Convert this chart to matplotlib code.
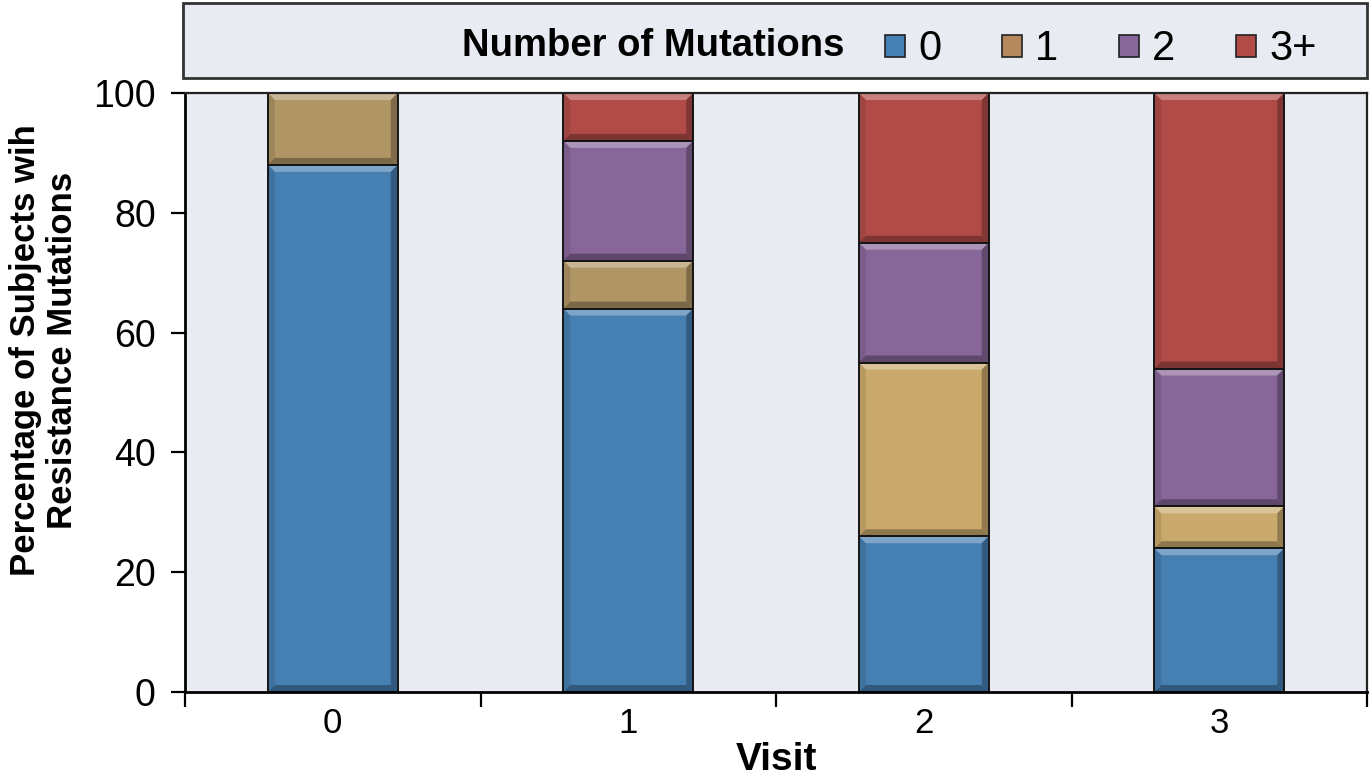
import matplotlib.pyplot as plt
import matplotlib.colors as mcolors
from matplotlib.patches import Polygon, Rectangle
import numpy as np

plt.rcParams['font.family'] = ['Liberation Sans', 'DejaVu Sans']

# data (percent of subjects per visit)
visits = ["0", "1", "2", "3"]
mutation_groups = ["0", "1", "2", "3+"]
pct_0 = [88, 64, 26, 24]
pct_1 = [12, 8, 29, 7]
pct_2 = [0, 20, 20, 23]
pct_3plus = [0, 8, 25, 46]
series = [pct_0, pct_1, pct_2, pct_3plus]

# colours (the "1" segment is a bit darker in the first two visits)
bar_colors = [
    ["#467fb1"] * 4,
    ["#b09565", "#b09565", "#c9aa6c", "#c9aa6c"],
    ["#876699"] * 4,
    ["#b14b48"] * 4,
]
legend_colors = ["#467fb1", "#b5895c", "#876699", "#b14b48"]
bg = "#e8ebf1"


def shade(c, f):
    rgb = np.array(mcolors.to_rgb(c))
    if f > 0:
        return tuple(rgb + (1 - rgb) * f)
    return tuple(rgb * (1 + f))


def bevel(ax, patch, color, px=7):
    # little 3d bevel like the original office chart
    x0, y0 = patch.get_x(), patch.get_y()
    x1, y1 = x0 + patch.get_width(), y0 + patch.get_height()
    if y1 - y0 <= 0:
        return
    o = ax.transData.transform((0, 0))
    d = ax.transData.inverted().transform(o + px) - ax.transData.inverted().transform(o)
    dx, dy = d
    dy = min(dy, (y1 - y0) / 2)
    parts = [
        ([(x0, y1), (x1, y1), (x1 - dx, y1 - dy), (x0 + dx, y1 - dy)], 0.3),
        ([(x0, y0), (x1, y0), (x1 - dx, y0 + dy), (x0 + dx, y0 + dy)], -0.3),
        ([(x1, y0), (x1, y1), (x1 - dx, y1 - dy), (x1 - dx, y0 + dy)], -0.28),
        ([(x0, y0), (x0, y1), (x0 + dx, y1 - dy), (x0 + dx, y0 + dy)], -0.1),
    ]
    for pts, f in parts:
        ax.add_patch(Polygon(pts, closed=True, facecolor=shade(color, f),
                             edgecolor="none", zorder=2.2))
    ax.add_patch(Rectangle((x0, y0), x1 - x0, y1 - y0, fill=False,
                           edgecolor="#151515", lw=1.4, zorder=2.5))


fig = plt.figure(figsize=(13.72, 7.82), dpi=100)
ax = fig.add_axes([185 / 1372, 90 / 782, 1182 / 1372, 599 / 782])
ax.set_facecolor(bg)

x = np.arange(len(visits))
ax.set_xlim(-0.5, len(visits) - 0.5)
ax.set_ylim(0, 100)

bottom = np.zeros(len(visits))
for vals, cols in zip(series, bar_colors):
    bars = ax.bar(x, vals, width=0.44, bottom=bottom, color=cols,
                  edgecolor="none", zorder=2)
    for b, c in zip(bars, cols):
        bevel(ax, b, c)
    bottom += np.array(vals)

# axes styling
ax.set_yticks(np.arange(0, 101, 20))
ax.set_xticks(x)
ax.set_xticklabels(visits)
ax.set_xticks(np.arange(-0.5, len(visits)), minor=True)
ax.tick_params(axis="y", direction="out", length=10, width=1.6, labelsize=27, pad=11)
ax.tick_params(axis="x", which="major", length=0, labelsize=25, pad=11)
ax.tick_params(axis="x", which="minor", direction="out", length=11, width=1.6)
for s in ["left", "bottom"]:
    ax.spines[s].set_linewidth(2)
    ax.spines[s].set_color("black")
for s in ["top", "right"]:
    ax.spines[s].set_linewidth(1.6)
    ax.spines[s].set_color("#222222")

ax.set_xlabel("Visit", fontsize=28, fontweight="bold")
ax.xaxis.set_label_coords(0.5, -0.083)
ax.set_ylabel("Percentage of Subjects wih\nResistance Mutations", fontsize=25,
              fontweight="bold", linespacing=1.15)
ax.yaxis.set_label_coords(-0.09, 0.57)

# legend panel across the top
fig.add_artist(Rectangle((183 / 1372, 704 / 782), 1184 / 1372, 75 / 782,
                         transform=fig.transFigure, facecolor=bg,
                         edgecolor="#333333", lw=2))
ly = 1 - 46 / 782
fig.text(845 / 1372, ly, "Number of Mutations", ha="right", va="center",
         fontsize=27.5, fontweight="bold")
for i, (lab, c) in enumerate(zip(mutation_groups, legend_colors)):
    lx = (885 + i * 117) / 1372
    fig.add_artist(Rectangle((lx, ly - 11 / 782), 20 / 1372, 22 / 782,
                             transform=fig.transFigure, facecolor=c,
                             edgecolor="#222222", lw=1.2))
    fig.text(lx + 33 / 1372, ly - 3 / 782, lab, ha="left", va="center", fontsize=30)

fig.savefig("out.png", dpi=100)
